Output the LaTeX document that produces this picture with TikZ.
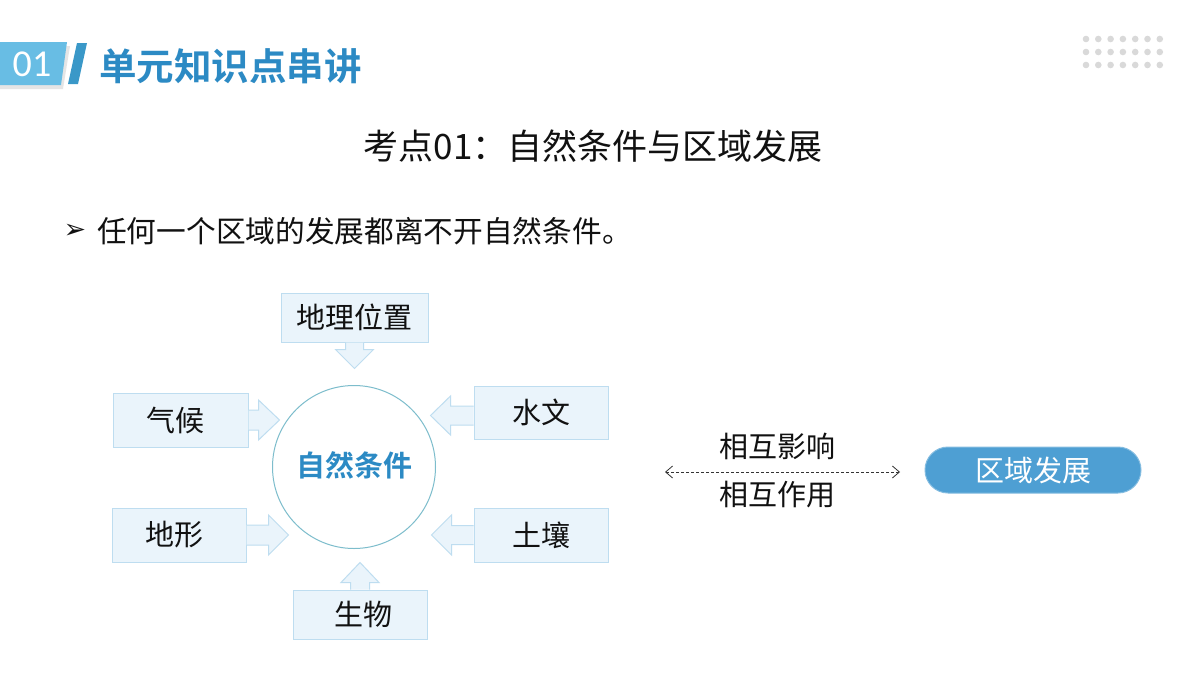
\documentclass[tikz,border=0pt]{standalone}
\usepackage{fontspec}
\newfontfamily\cjk{Noto Sans CJK SC}
\newfontfamily\cjkb{Noto Sans CJK SC Bold}
\newfontfamily\carl{Carlito}
\newfontfamily\dejavu{DejaVu Sans}
\usetikzlibrary{calc,arrows.meta}
\definecolor{boxfill}{HTML}{EAF4FB}
\definecolor{boxline}{HTML}{BEDDF0}
\definecolor{titleblue}{HTML}{2C8AC4}
\definecolor{badge}{HTML}{68BDE4}
\definecolor{badgebar}{HTML}{3A98C8}
\definecolor{pillblue}{HTML}{4E9FD3}
\definecolor{circline}{HTML}{7DBDCC}
\definecolor{dotgray}{HTML}{D9D9D9}
\definecolor{txt}{HTML}{111111}
\tikzset{
  fbox/.style={draw=boxline, fill=boxfill, line width=1pt, inner sep=0pt,
    font=\cjk\fontsize{29}{29}\selectfont, text=txt},
  barrow/.style={draw=boxline, fill=boxfill, line width=1pt, line join=miter},
  lbl/.style={font=\cjk\fontsize{29}{29}\selectfont, text=txt, inner sep=0pt},
}
\newcommand\harrow[5]{\draw[barrow] ($(#1)+(0,-#4)$) -- ($(#1)+(#2,-#4)$) -- ($(#1)+(#2,-#5)$) -- ($(#1)+(#3,0)$) -- ($(#1)+(#2,#5)$) -- ($(#1)+(#2,#4)$) -- ($(#1)+(0,#4)$);}
\newcommand\varrow[5]{\draw[barrow] ($(#1)+(-#4,0)$) -- ($(#1)+(-#4,#2)$) -- ($(#1)+(-#5,#2)$) -- ($(#1)+(0,#3)$) -- ($(#1)+(#5,#2)$) -- ($(#1)+(#4,#2)$) -- ($(#1)+(#4,0)$);}
\begin{document}
\begin{tikzpicture}[x=1pt,y=-1pt]
\useasboundingbox[fill=white] (0,0) rectangle (1200,675);
% header badge
\fill[black!20, opacity=0.5] (0,46) -- (70,46) -- (63,89) -- (0,89) -- cycle;
\fill[badge] (0,42) -- (67,42) -- (61,85) -- (0,85) -- cycle;
\fill[badgebar] (77,43) -- (87,43) -- (78,84) -- (68,84) -- cycle;
\node[font=\carl\fontsize{38}{38}\selectfont, text=white, inner sep=0pt] (num) at (32,64) {01};
\node[font=\cjkb\fontsize{37.5}{37.5}\selectfont, text=titleblue, anchor=west, inner sep=0pt] (head) at (99,66) {单元知识点串讲};
% dots
\foreach \i in {0,...,6} \foreach \j in {0,...,2}
  \fill[dotgray] (1086+\i*12.3, 39+\j*13) circle[radius=3.3];
% subtitle
\node[font=\cjk\fontsize{35}{35}\selectfont, text=txt, inner sep=0pt] (sub) at (593,146) {考点01：自然条件与区域发展};
% bullet
\node[font=\dejavu\fontsize{27}{27}\selectfont, text=txt, inner sep=0pt] (blt) at (75,231) {➢};
\node[font=\cjk\fontsize{29.7}{29.7}\selectfont, text=txt, anchor=west, inner sep=0pt] (btxt) at (97,231) {任何一个区域的发展都离不开自然条件。};
% center circle
\node[draw=circline, line width=1pt, circle, minimum size=163pt, inner sep=0pt,
  font=\cjkb\fontsize{29}{29}\selectfont, text=titleblue] (zr) at (354,467) {\raisebox{5pt}{自然条件}};
% boxes
\node[fbox, minimum width=147pt, minimum height=49pt] (dl) at (354.5,317.5) {地理位置};
\node[fbox, minimum width=135pt, minimum height=54pt] (qh) at (180.5,420) {\hspace*{-10pt}气候};
\node[fbox, minimum width=134pt, minimum height=53pt] (sw) at (541,412.5) {水文};
\node[fbox, minimum width=134pt, minimum height=54pt] (dx) at (179,535) {\hspace*{-10pt}地形};
\node[fbox, minimum width=134pt, minimum height=54pt] (tr) at (541,535) {土壤};
\node[fbox, minimum width=134pt, minimum height=49pt] (sc) at (360,614.5) {\hspace*{6pt}生物};
% block arrows
\harrow{qh.east}{10}{31}{10}{20}
\harrow{dx.east}{22}{42}{10}{20}
\harrow{$(sw.west)+(0,3)$}{-23}{-43}{9.5}{19.5}
\harrow{tr.west}{-22}{-42}{9.5}{20}
\varrow{dl.south}{7}{26}{9}{19}
\varrow{sc.north}{-7}{-27}{9.5}{19}
% right side
\coordinate (la) at (665,472);
\coordinate (lb) at (900,472);
\draw[black!80, line width=0.8pt, dash pattern=on 3pt off 2pt,
  {Straight Barb[length=7pt,width=12pt,line width=0.8pt]}-{Straight Barb[length=7pt,width=12pt,line width=0.8pt]}] (la) -- (lb);
\node[lbl] (y1) at (777,446) {相互影响};
\node[lbl] (y2) at (777,495) {相互作用};
\node[draw=pillblue!70!white, line width=1pt, fill=pillblue, rounded corners=23pt,
  minimum width=216pt, minimum height=46pt, inner sep=0pt,
  font=\cjk\fontsize{29}{29}\selectfont, text=white] (qy) at (1033,470) {区域发展};
\end{tikzpicture}
\end{document}
